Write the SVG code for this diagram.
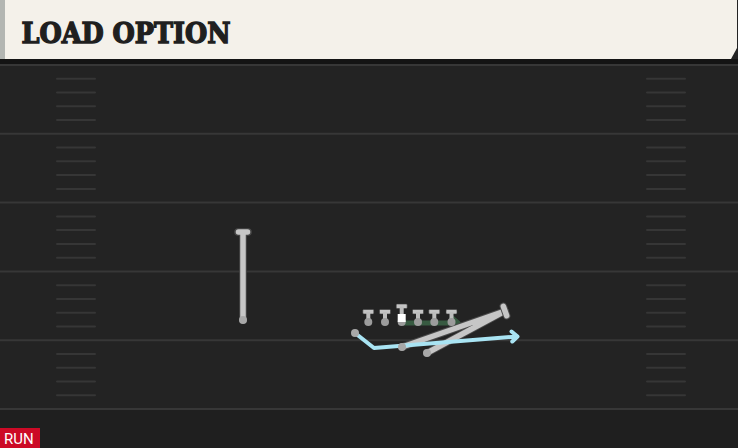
<svg xmlns="http://www.w3.org/2000/svg" width="738" height="448" viewBox="0 0 738 448">
<defs>
<style>
.yard{stroke:#373737;stroke-width:2}
.hash{stroke:#363636;stroke-width:2;stroke-linecap:round}
.bar{fill:#c4c4c4;stroke:#3a3a3a;stroke-width:0.6}
.stem{fill:#bdbdbd}
.dot{fill:#9c9c9c}
.routeOut{fill:none;stroke:#4a4a4a;stroke-width:7.5;stroke-linecap:round;stroke-linejoin:round}
.route{fill:none;stroke:#c6c6c6;stroke-width:5.5;stroke-linecap:round;stroke-linejoin:round}
.blue{fill:none;stroke:#a9e4f3;stroke-width:4;stroke-linecap:round;stroke-linejoin:round}
.green{fill:none;stroke:#3b6446;stroke-width:5;stroke-opacity:0.85;stroke-linecap:round;stroke-linejoin:round}
.start{fill:#a8a8a8}
</style>
</defs>
<rect x="0" y="0" width="738" height="448" fill="#232323"/>
<rect x="0" y="409" width="738" height="39" fill="#1f1f1f"/>
<g id="header">
<rect x="0" y="59" width="738" height="6" fill="#141414"/>
<polygon points="0,0 737,0 737,48 731,59 0,59" fill="#f4f1ea"/>
<rect x="0" y="0" width="5" height="59" fill="#b3b6b2"/>
<text x="21.5" y="42.5" font-family="'DejaVu Serif', serif" font-weight="bold" font-size="27" fill="#1f1f1f" stroke="#1f1f1f" stroke-width="1.4" stroke-linejoin="miter" textLength="209" lengthAdjust="spacingAndGlyphs">LOAD OPTION</text>
</g>
<g id="field">
<line class="yard" x1="0" y1="65" x2="738" y2="65"/>
<line class="yard" x1="0" y1="133.8" x2="738" y2="133.8"/>
<line class="yard" x1="0" y1="202.6" x2="738" y2="202.6"/>
<line class="yard" x1="0" y1="271.4" x2="738" y2="271.4"/>
<line class="yard" x1="0" y1="340.2" x2="738" y2="340.2"/>
<line class="yard" x1="0" y1="409" x2="738" y2="409"/>
<g id="hash-left">
<line class="hash" x1="57" y1="78.8" x2="95" y2="78.8"/><line class="hash" x1="57" y1="92.5" x2="95" y2="92.5"/><line class="hash" x1="57" y1="106.3" x2="95" y2="106.3"/><line class="hash" x1="57" y1="120.1" x2="95" y2="120.1"/>
<line class="hash" x1="57" y1="147.6" x2="95" y2="147.6"/><line class="hash" x1="57" y1="161.3" x2="95" y2="161.3"/><line class="hash" x1="57" y1="175.1" x2="95" y2="175.1"/><line class="hash" x1="57" y1="188.9" x2="95" y2="188.9"/>
<line class="hash" x1="57" y1="216.4" x2="95" y2="216.4"/><line class="hash" x1="57" y1="230.1" x2="95" y2="230.1"/><line class="hash" x1="57" y1="243.9" x2="95" y2="243.9"/><line class="hash" x1="57" y1="257.7" x2="95" y2="257.7"/>
<line class="hash" x1="57" y1="285.2" x2="95" y2="285.2"/><line class="hash" x1="57" y1="298.9" x2="95" y2="298.9"/><line class="hash" x1="57" y1="312.7" x2="95" y2="312.7"/><line class="hash" x1="57" y1="326.5" x2="95" y2="326.5"/>
<line class="hash" x1="57" y1="354" x2="95" y2="354"/><line class="hash" x1="57" y1="367.7" x2="95" y2="367.7"/><line class="hash" x1="57" y1="381.5" x2="95" y2="381.5"/><line class="hash" x1="57" y1="395.3" x2="95" y2="395.3"/>
</g>
<g id="hash-right">
<line class="hash" x1="647" y1="78.8" x2="685" y2="78.8"/><line class="hash" x1="647" y1="92.5" x2="685" y2="92.5"/><line class="hash" x1="647" y1="106.3" x2="685" y2="106.3"/><line class="hash" x1="647" y1="120.1" x2="685" y2="120.1"/>
<line class="hash" x1="647" y1="147.6" x2="685" y2="147.6"/><line class="hash" x1="647" y1="161.3" x2="685" y2="161.3"/><line class="hash" x1="647" y1="175.1" x2="685" y2="175.1"/><line class="hash" x1="647" y1="188.9" x2="685" y2="188.9"/>
<line class="hash" x1="647" y1="216.4" x2="685" y2="216.4"/><line class="hash" x1="647" y1="230.1" x2="685" y2="230.1"/><line class="hash" x1="647" y1="243.9" x2="685" y2="243.9"/><line class="hash" x1="647" y1="257.7" x2="685" y2="257.7"/>
<line class="hash" x1="647" y1="285.2" x2="685" y2="285.2"/><line class="hash" x1="647" y1="298.9" x2="685" y2="298.9"/><line class="hash" x1="647" y1="312.7" x2="685" y2="312.7"/><line class="hash" x1="647" y1="326.5" x2="685" y2="326.5"/>
<line class="hash" x1="647" y1="354" x2="685" y2="354"/><line class="hash" x1="647" y1="367.7" x2="685" y2="367.7"/><line class="hash" x1="647" y1="381.5" x2="685" y2="381.5"/><line class="hash" x1="647" y1="395.3" x2="685" y2="395.3"/>
</g>
</g>
<g id="connectors">
<path class="green" d="M404,323 L458,323 M452,318 L458,323 L452,328"/>
<path class="routeOut" d="M243,320 L243,232 M238,232 L248,232"/>
<path class="route" d="M243,320 L243,232 M238.5,232 L247.5,232"/>
<path class="routeOut" d="M402,347 L505,311 M427,353 L505,311"/>
<path class="route" d="M402,347 L505,311 M427,353 L505,311"/>
<path class="routeOut" d="M503.3,306.3 L506.7,315.7"/>
<path class="route" d="M503.3,306.3 L506.7,315.7"/>
<path class="blue" d="M355,333 L374,348 L517,336.5 M511.5,331.5 L517.5,336.5 L512.3,341.5"/>
<circle class="start" cx="243" cy="320" r="4"/>
<circle class="start" cx="402" cy="347" r="4"/>
<circle class="start" cx="427" cy="353" r="4"/>
<circle class="start" cx="355" cy="333" r="4"/>
</g>
<g id="lt"><rect class="bar" x="362.8" y="309.5" width="11" height="4.5" rx="1"/><rect class="stem" x="366.3" y="312" width="4" height="9"/><circle class="dot" cx="368.3" cy="322" r="4"/></g>
<g id="lg"><rect class="bar" x="379.5" y="309.5" width="11" height="4.5" rx="1"/><rect class="stem" x="383" y="312" width="4" height="9"/><circle class="dot" cx="385" cy="322" r="4"/></g>
<g id="c"><rect class="bar" x="396.2" y="304" width="11" height="4.5" rx="1"/><rect class="stem" x="399.7" y="306.5" width="4" height="9"/><circle class="dot" cx="401.7" cy="322" r="4"/><rect x="397.7" y="314" width="8" height="8" fill="#ffffff"/></g>
<g id="rg"><rect class="bar" x="412.5" y="309.5" width="11" height="4.5" rx="1"/><rect class="stem" x="416" y="312" width="4" height="9"/><circle class="dot" cx="418" cy="322" r="4"/></g>
<g id="rt"><rect class="bar" x="428.8" y="309.5" width="11" height="4.5" rx="1"/><rect class="stem" x="432.3" y="312" width="4" height="9"/><circle class="dot" cx="434.3" cy="322" r="4"/></g>
<g id="te"><rect class="bar" x="446" y="309.5" width="11" height="4.5" rx="1"/><rect class="stem" x="449.5" y="312" width="4" height="9"/><circle class="dot" cx="451.5" cy="322" r="4"/></g>
<g id="run-tag">
<rect x="0" y="428" width="40" height="20" fill="#cc0a26"/>
<text x="4" y="444" font-family="Roboto, 'Liberation Sans', sans-serif" font-size="15" fill="#ffffff">RUN</text>
</g>
</svg>
